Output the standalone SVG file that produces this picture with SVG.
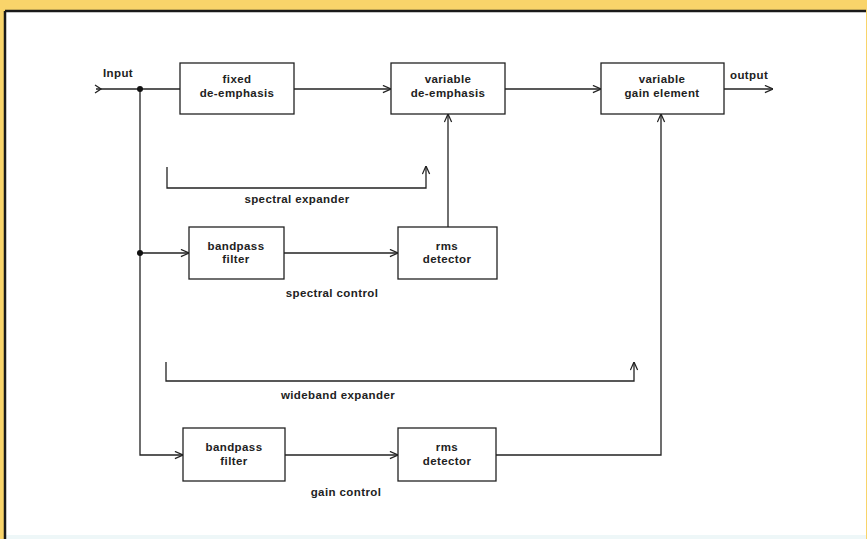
<svg xmlns="http://www.w3.org/2000/svg" width="867" height="539" viewBox="0 0 867 539">
<defs>
<style>
.box{fill:#fff;stroke:#222;stroke-width:1.3}
.ln{fill:none;stroke:#222;stroke-width:1.3}
.t{font-family:"Liberation Sans",Arial,sans-serif;font-weight:bold;font-size:11.5px;letter-spacing:0.4px;fill:#222;text-anchor:middle}
.l{font-family:"Liberation Sans",Arial,sans-serif;font-weight:bold;font-size:11.5px;letter-spacing:0.4px;fill:#222}
</style>
<marker id="ah" viewBox="0 0 10 10" refX="10" refY="5" markerWidth="9" markerHeight="9" markerUnits="userSpaceOnUse" orient="auto">
<path d="M1,1 L10,5 L1,9" fill="none" stroke="#222" stroke-width="1.4"/>
</marker>
</defs>
<rect x="0" y="0" width="867" height="539" fill="#f9d46a"/>
<rect x="5" y="11" width="861" height="528" fill="#fff"/>
<rect x="5" y="535" width="861" height="4" fill="#eef7f8"/>
<line x1="5" y1="11" x2="5" y2="539" stroke="#1a1a1a" stroke-width="2.5"/>
<line x1="5" y1="11" x2="866" y2="11" stroke="#1a1a1a" stroke-width="2.5"/>

<g id="connectors">
<path class="ln" d="M95,85 L101,89 L95,93"/>
<path class="ln" d="M96,89 L180,89"/>
<path class="ln" d="M294,89 L391,89" marker-end="url(#ah)"/>
<path class="ln" d="M505,89 L601,89" marker-end="url(#ah)"/>
<path class="ln" d="M724,89 L773,89" marker-end="url(#ah)"/>
<path class="ln" d="M140,89 L140,455 L183,455" marker-end="url(#ah)"/>
<path class="ln" d="M140,253 L189,253" marker-end="url(#ah)"/>
<path class="ln" d="M284,253 L398,253" marker-end="url(#ah)"/>
<path class="ln" d="M448,227 L448,114" marker-end="url(#ah)"/>
<path class="ln" d="M285,455 L398,455" marker-end="url(#ah)"/>
<path class="ln" d="M496,455 L661,455 L661,114" marker-end="url(#ah)"/>
<path class="ln" d="M167,167 L167,188 L426,188 L426,166" marker-end="url(#ah)"/>
<path class="ln" d="M166,362 L166,381 L634,381 L634,362" marker-end="url(#ah)"/>
<circle cx="140" cy="89" r="3" fill="#111"/>
<circle cx="140" cy="253" r="3" fill="#111"/>
</g>

<g id="input"><text class="l" x="103" y="77">Input</text></g>
<g id="output"><text class="l" x="730" y="79">output</text></g>

<g id="fixed-de-emphasis">
<rect class="box" x="180" y="63" width="114" height="51"/>
<text class="t" x="237" y="83">fixed</text>
<text class="t" x="237" y="97">de-emphasis</text>
</g>
<g id="variable-de-emphasis">
<rect class="box" x="391" y="63" width="114" height="51"/>
<text class="t" x="448" y="83">variable</text>
<text class="t" x="448" y="97">de-emphasis</text>
</g>
<g id="variable-gain-element">
<rect class="box" x="601" y="63" width="123" height="51"/>
<text class="t" x="662" y="83">variable</text>
<text class="t" x="662" y="97">gain element</text>
</g>
<g id="bandpass-filter-1">
<rect class="box" x="189" y="227" width="95" height="52"/>
<text class="t" x="236" y="250">bandpass</text>
<text class="t" x="236" y="263">filter</text>
</g>
<g id="rms-detector-1">
<rect class="box" x="398" y="227" width="99" height="52"/>
<text class="t" x="447" y="250">rms</text>
<text class="t" x="447" y="263">detector</text>
</g>
<g id="bandpass-filter-2">
<rect class="box" x="183" y="428" width="102" height="53"/>
<text class="t" x="234" y="451">bandpass</text>
<text class="t" x="234" y="465">filter</text>
</g>
<g id="rms-detector-2">
<rect class="box" x="398" y="428" width="98" height="53"/>
<text class="t" x="447" y="451">rms</text>
<text class="t" x="447" y="465">detector</text>
</g>

<g id="labels">
<text class="t" x="297" y="203">spectral expander</text>
<text class="t" x="332" y="297">spectral control</text>
<text class="t" x="338" y="399">wideband expander</text>
<text class="t" x="346" y="496">gain control</text>
</g>
</svg>
